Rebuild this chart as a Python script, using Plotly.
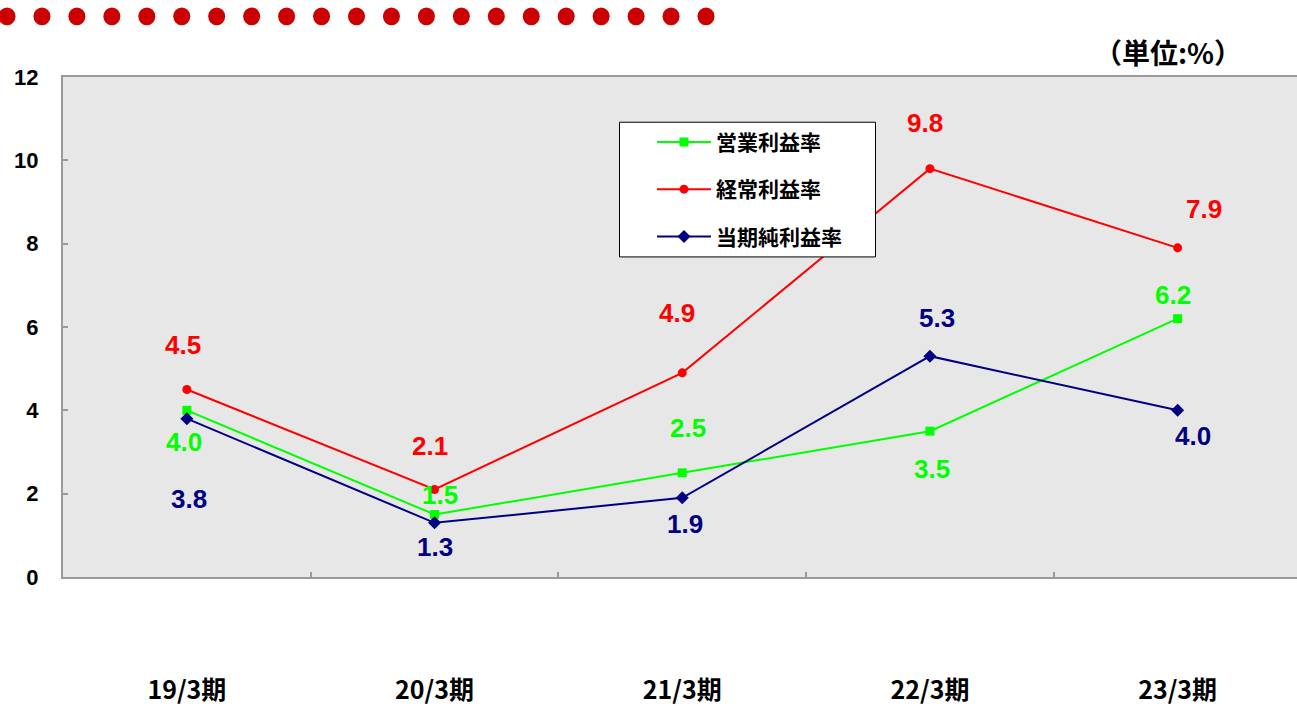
import plotly.graph_objects as go

# ---------------- data ----------------
categories = ["19/3期", "20/3期", "21/3期", "22/3期", "23/3期"]
operating_margin = [4.0, 1.5, 2.5, 3.5, 6.2]      # 営業利益率
ordinary_margin = [4.5, 2.1, 4.9, 9.8, 7.9]       # 経常利益率
net_margin = [3.8, 1.3, 1.9, 5.3, 4.0]            # 当期純利益率
series_names = ["営業利益率", "経常利益率", "当期純利益率"]
y_ticks = [0, 2, 4, 6, 8, 10, 12]
unit_text = "（単位:%）"

# ---------------- style ----------------
W, H = 1297, 706
ML, MR, MT, MB = 63, 0, 77, 126
PW, PH = W - ML - MR, H - MT - MB
colors = ["#00ff00", "#ff0000", "#000080"]
symbols = ["square", "circle", "diamond"]
# label offsets (px, screen: +dx right, +dy down)
label_offsets = [
    [(-3, 32), (5, -20), (6, -45), (2, 38), (-5, -24)],
    [(-4, -45), (-5, -44), (-5, -60), (-5, -46), (26, -39)],
    [(2, 80), (0, 24), (3, 26), (7, -38), (15, 26)],
]
AXC = "#9a9a9a"
CJK = "Noto Sans CJK JP"
SANS = "Liberation Sans, Arial, sans-serif"


def px_x(px):
    return (px - ML) / PW


def px_y(py):
    return (H - MB - py) / PH


fig = go.Figure()
all_series = [operating_margin, ordinary_margin, net_margin]
for i, (name, vals) in enumerate(zip(series_names, all_series)):
    fig.add_trace(go.Scatter(
        x=categories, y=vals, name=name, mode="lines+markers",
        line=dict(color=colors[i], width=2),
        marker=dict(symbol=symbols[i], size=10 if symbols[i] == "diamond" else 9,
                    color=colors[i]),
        legendgroup=f"g{i}",
    ))
    for j, v in enumerate(vals):
        dx, dy = label_offsets[i][j]
        fig.add_annotation(
            x=categories[j], y=v, xref="x", yref="y", text=f"{v:.1f}",
            showarrow=False, xshift=dx, yshift=-dy,
            font=dict(family=SANS, size=26, color=colors[i], weight="bold"),
            xanchor="center", yanchor="middle",
        )

shapes = []
# decorative red dots across the top
dot_count = 21
for k in range(dot_count):
    cx = 7 + k * 34.95
    shapes.append(dict(type="circle", xref="paper", yref="paper",
                       x0=px_x(cx - 8.5), x1=px_x(cx + 8.5),
                       y0=px_y(16 + 9), y1=px_y(16 - 9),
                       fillcolor="#cc0000", line=dict(width=0), layer="above"))
# legend box
shapes.append(dict(type="rect", xref="paper", yref="paper",
                   x0=px_x(619.5), x1=px_x(875.5), y0=px_y(258), y1=px_y(122.5),
                   fillcolor="white", line=dict(color="black", width=1), layer="above"))
fig.update_layout(shapes=shapes)

fig.add_annotation(x=px_x(1244), y=px_y(52), xref="paper", yref="paper",
                   text=unit_text, showarrow=False, xanchor="right", yanchor="middle",
                   font=dict(family=CJK, size=28, color="black", weight="bold"))

fig.update_layout(
    width=W, height=H,
    margin=dict(l=ML, r=MR, t=MT, b=MB, pad=0),
    paper_bgcolor="white", plot_bgcolor="#e7e7e7",
    showlegend=True,
    legend=dict(x=px_x(652), y=px_y(122), xanchor="left", yanchor="top",
                bgcolor="rgba(0,0,0,0)", borderwidth=0,
                font=dict(family=CJK, size=21, color="black", weight="bold"),
                itemwidth=54, tracegroupgap=17, traceorder="grouped"),
    xaxis=dict(
        type="category", range=[-0.5, -0.5 + PW / 247.7],
        showgrid=False, zeroline=False,
        showline=True, linecolor=AXC, linewidth=2, mirror=True,
        ticks="inside", tickson="boundaries", ticklen=5, tickcolor=AXC, tickwidth=2,
        tickfont=dict(family=CJK, size=25, color="black", weight="bold"),
        ticklabelstandoff=90,
    ),
    yaxis=dict(
        range=[0, 12], tickvals=y_ticks, showgrid=False, zeroline=False,
        showline=True, linecolor=AXC, linewidth=2,
        ticks="inside", ticklen=5, tickcolor=AXC, tickwidth=2,
        tickfont=dict(family=SANS, size=22, color="black", weight="bold"),
        ticklabelstandoff=18,
    ),
)

fig.write_html("out.html")
